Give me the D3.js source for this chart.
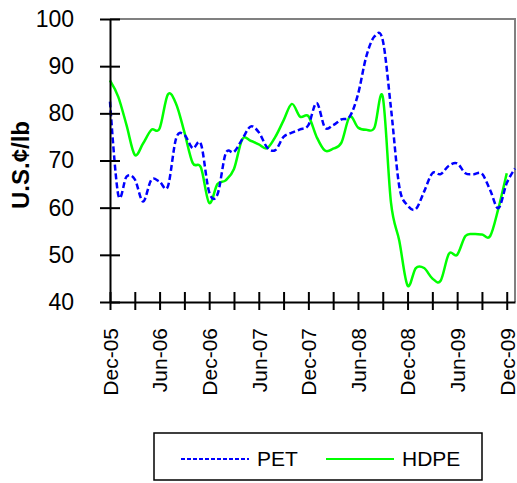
<!DOCTYPE html>
<html>
<head>
<meta charset="utf-8">
<script src="https://cdn.jsdelivr.net/npm/d3@7"></script>
<style>
  body { margin: 0; background: #fff; }
  svg { display: block; font-family: "Liberation Sans", Arial, sans-serif; }
</style>
</head>
<body>
<div id="chart"></div>
<script>
// monthly categories, Dec-05 .. Jan-10
const months = d3.timeMonth.range(new Date(2005, 11, 1), new Date(2010, 1, 1)).map(d3.timeFormat("%b-%y"));

const pet = [82.5, 62.7, 66.6, 66, 61.3, 65.9, 65.5, 64.5, 74.7, 75.4,
  72.6, 73.5, 63.3, 62.8, 71.5, 71.8, 74.5, 77.2, 76, 72.8,
  72.2, 75, 75.9, 76.6, 77.5, 82.2, 77, 77.5, 78.7, 79.3,
  84, 92, 96.3, 95.5, 81, 64.5, 60.5, 59.7, 63.4, 67.3,
  67.1, 68.9, 69.4, 67.3, 67.1, 67.2, 63.7, 59.9, 65.2, 68.3];

const hdpe = [87, 83.5, 77.5, 71.2, 73.6, 76.5, 76.8, 84, 82, 76,
  69.5, 68.5, 61, 65, 65.8, 68.2, 74.5, 74.2, 73.4, 72.6,
  75, 78.5, 82, 79.3, 79.4, 75, 72.1, 72.5, 73.8, 79.3,
  77, 76.5, 77, 83.5, 61, 53, 43.5, 47.2, 47.2, 45,
  44.5, 50.2, 50, 54, 54.4, 54.3, 54, 59.9, 67.3];

const yTicks = [40, 50, 60, 70, 80, 90, 100];

const width = 517, height = 483;
const plot = { left: 110, right: 515, top: 19, bottom: 302 };

const svg = d3.select("#chart").append("svg")
    .attr("width", width)
    .attr("height", height);

const x = d3.scalePoint()
    .domain(months)
    .range([plot.left, plot.right]);

const y = d3.scaleLinear()
    .domain([40, 100])
    .range([plot.bottom, plot.top]);

// plot area border (top/right grey)
svg.append("path")
    .attr("d", `M${plot.left},${plot.top}H${plot.right}V${plot.bottom}`)
    .attr("fill", "none")
    .attr("stroke", "#808080")
    .attr("stroke-width", 2);

const line = d3.line()
    .x((d, i) => x(months[i]))
    .y(d => y(d))
    .curve(d3.curveCatmullRom.alpha(0));

svg.append("path")
    .datum(hdpe)
    .attr("d", line)
    .attr("fill", "none")
    .attr("stroke", "#00ff00")
    .attr("stroke-width", 2.5);

svg.append("path")
    .datum(pet)
    .attr("d", line)
    .attr("fill", "none")
    .attr("stroke", "#0000ff")
    .attr("stroke-width", 2.5)
    .attr("stroke-dasharray", "6,3");

// y axis
const yAxis = svg.append("g")
    .attr("transform", `translate(${plot.left},0)`)
    .call(d3.axisLeft(y).tickValues(yTicks).tickSizeInner(10).tickSizeOuter(0).tickPadding(26));
yAxis.select(".domain").attr("stroke", "#000").attr("stroke-width", 2);
yAxis.selectAll(".tick line").attr("x1", 10).attr("stroke", "#000").attr("stroke-width", 2);
yAxis.selectAll(".tick text")
    .attr("font-size", 23)
    .attr("font-family", "Liberation Sans, Arial, sans-serif")
    .attr("fill", "#000");

// x axis
const xTickVals = months.filter((m, i) => i % 3 === 0);
const xAxis = svg.append("g")
    .attr("transform", `translate(0,${plot.bottom})`)
    .call(d3.axisBottom(x).tickValues(xTickVals).tickSizeInner(8).tickSizeOuter(0)
        .tickFormat(m => months.indexOf(m) % 6 === 0 ? m : ""));
xAxis.select(".domain").attr("stroke", "#000").attr("stroke-width", 2);
xAxis.selectAll(".tick line").attr("y1", -10).attr("stroke", "#000").attr("stroke-width", 2);
xAxis.selectAll(".tick text")
    .attr("font-size", 21)
    .attr("font-family", "Liberation Sans, Arial, sans-serif")
    .attr("fill", "#000")
    .attr("text-anchor", "end")
    .attr("transform", "translate(0,26) rotate(-90)")
    .attr("x", 0)
    .attr("y", 0)
    .attr("dy", "0.35em");

// y axis title
svg.append("text")
    .attr("transform", "translate(21,165) rotate(-90)")
    .attr("text-anchor", "middle")
    .attr("dy", "0.35em")
    .attr("font-size", 24)
    .attr("font-weight", "bold")
    .text("U.S.\u00a2/lb");

// legend
const legend = svg.append("g");
legend.append("rect")
    .attr("x", 154).attr("y", 433)
    .attr("width", 328).attr("height", 47)
    .attr("fill", "#fff")
    .attr("stroke", "#000")
    .attr("stroke-width", 1.5);

const legendItems = [
    { name: "PET", color: "#0000ff", dash: "4,2", x: 181 },
    { name: "HDPE", color: "#00ff00", dash: null, x: 326 }
];
legendItems.forEach(d => {
    legend.append("line")
        .attr("x1", d.x).attr("x2", d.x + 68)
        .attr("y1", 459).attr("y2", 459)
        .attr("stroke", d.color)
        .attr("stroke-width", 2)
        .attr("stroke-dasharray", d.dash);
    legend.append("text")
        .attr("x", d.x + 76).attr("y", 459)
        .attr("dy", "0.35em")
        .attr("font-size", 21)
        .text(d.name);
});
</script>
</body>
</html>
